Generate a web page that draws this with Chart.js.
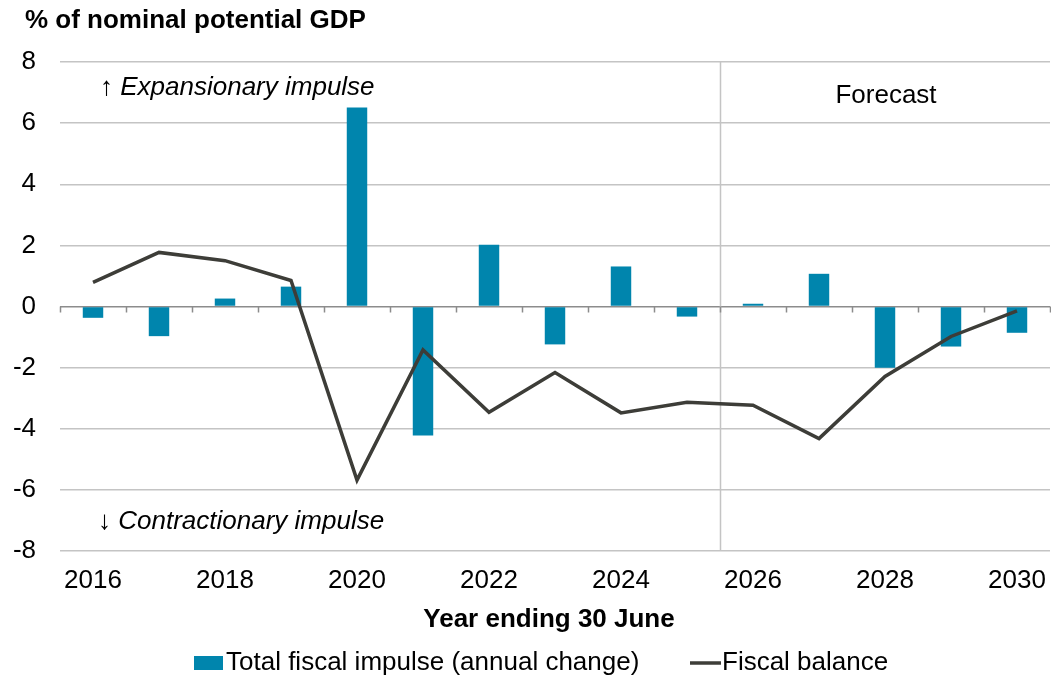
<!DOCTYPE html>
<html>
<head>
<meta charset="utf-8">
<script src="https://cdn.jsdelivr.net/npm/chart.js@4.4.1/dist/chart.umd.min.js"></script>
<style>
  html, body { margin: 0; padding: 0; background: #fff; }
  #wrap { width: 1051px; height: 679px; position: relative; }
</style>
</head>
<body>
<div id="wrap"><canvas id="fiscalChart"></canvas></div>
<script>
const years = ['2016', '2017', '2018', '2019', '2020', '2021', '2022', '2023',
               '2024', '2025', '2026', '2027', '2028', '2029', '2030'];
const fiscalImpulse = [-0.37, -0.97, 0.26, 0.65, 6.51, -4.22, 2.02, -1.24,
                       1.31, -0.33, 0.09, 1.07, -2.0, -1.31, -0.86];
const fiscalBalance = [0.79, 1.77, 1.5, 0.85, -5.68, -1.42, -3.46, -2.16,
                       -3.48, -3.13, -3.23, -4.32, -2.29, -0.98, -0.14];
const yTicks = [-8, -6, -4, -2, 0, 2, 4, 6, 8];
const forecastStart = '2026';

const FONT = "'Liberation Sans', Arial, sans-serif";
const BAR_COLOUR = '#0085ad';
const LINE_COLOUR = '#3d3d38';

// titles, notes, forecast divider, zero-line ticks and legend
const extras = {
  id: 'extras',
  beforeDatasetsDraw(chart) {
    const { ctx, chartArea: a, scales: { x } } = chart;
    ctx.save();
    // divider before the forecast years
    const fi = years.indexOf(forecastStart);
    const half = (x.getPixelForValue(1) - x.getPixelForValue(0)) / 2;
    const divX = Math.round(x.getPixelForValue(fi) - half) + 0.5;
    ctx.strokeStyle = '#c4c4c4';
    ctx.lineWidth = 1.5;
    ctx.beginPath();
    ctx.moveTo(divX, a.top);
    ctx.lineTo(divX, a.bottom);
    ctx.stroke();
    ctx.restore();
  },
  afterDatasetsDraw(chart) {
    const { ctx, scales: { x, y } } = chart;
    const bars = chart.data.datasets.find(d => d.type === 'bar');
    const line = chart.data.datasets.find(d => d.type === 'line');
    ctx.save();
    // small tick marks hanging off the zero line
    const y0 = y.getPixelForValue(0);
    const half = (x.getPixelForValue(1) - x.getPixelForValue(0)) / 2;
    ctx.strokeStyle = '#8c8c8c';
    ctx.lineWidth = 1.5;
    ctx.beginPath();
    for (let i = 0; i <= years.length; i++) {
      const px = Math.round(x.getPixelForValue(i) - half) + 0.5;
      ctx.moveTo(px, y0);
      ctx.lineTo(px, y0 + 6);
    }
    ctx.stroke();

    ctx.fillStyle = '#000';
    ctx.textBaseline = 'middle';
    ctx.textAlign = 'left';
    ctx.font = `bold 26px ${FONT}`;
    ctx.fillText('% of nominal potential GDP', 25, 21);

    ctx.textAlign = 'center';
    ctx.fillText('Year ending 30 June', 549, 620);

    ctx.textAlign = 'left';
    ctx.font = `italic 26px ${FONT}`;
    ctx.fillText('\u2191 Expansionary impulse', 100, 88);
    ctx.fillText('\u2193 Contractionary impulse', 98, 522);

    ctx.font = `26px ${FONT}`;
    ctx.textAlign = 'center';
    ctx.fillText('Forecast', 886, 96);

    // legend
    const ly = 663;
    ctx.textAlign = 'left';
    ctx.fillStyle = bars.backgroundColor;
    ctx.fillRect(194, ly - 7, 29, 14);
    ctx.fillStyle = '#000';
    ctx.fillText(bars.label, 226, ly);
    ctx.strokeStyle = line.borderColor;
    ctx.lineWidth = 3.5;
    ctx.beginPath();
    ctx.moveTo(690, ly);
    ctx.lineTo(721, ly);
    ctx.stroke();
    ctx.fillText(line.label, 722, ly);
    ctx.restore();
  }
};

new Chart(document.getElementById('fiscalChart'), {
  data: {
    labels: years,
    datasets: [
      {
        type: 'line',
        label: 'Fiscal balance',
        data: fiscalBalance,
        borderColor: LINE_COLOUR,
        borderWidth: 3.5,
        pointRadius: 0,
        tension: 0,
        order: 0
      },
      {
        type: 'bar',
        label: 'Total fiscal impulse (annual change)',
        data: fiscalImpulse,
        backgroundColor: BAR_COLOUR,
        categoryPercentage: 1,
        barPercentage: 0.31,
        order: 1
      }
    ]
  },
  options: {
    responsive: true,
    maintainAspectRatio: false,
    animation: false,
    layout: { padding: { top: 62, right: 1, bottom: 41, left: 0 } },
    plugins: {
      legend: { display: false },
      tooltip: { enabled: false }
    },
    scales: {
      x: {
        offset: true,
        afterFit: (scale) => {
          scale.height = 87;
          scale.paddingLeft = 0;
          scale.paddingRight = 0;
        },
        grid: { display: false, drawTicks: false },
        border: { display: false },
        ticks: {
          autoSkip: false,
          maxRotation: 0,
          padding: 14,
          color: '#000',
          font: { family: FONT, size: 26 },
          callback: (v, i) => (i % 2 === 0 ? years[i] : '')
        }
      },
      y: {
        min: -8,
        max: 8,
        afterBuildTicks: (scale) => { scale.ticks = yTicks.map(v => ({ value: v })); },
        afterFit: (scale) => { scale.width = 60; },
        grid: {
          drawTicks: false,
          lineWidth: 1.5,
          color: (c) => (c.tick && c.tick.value === 0 ? '#8c8c8c' : '#c4c4c4')
        },
        border: { display: false },
        ticks: {
          padding: 24,
          color: '#000',
          font: { family: FONT, size: 26 }
        }
      }
    }
  },
  plugins: [extras]
});
</script>
</body>
</html>
